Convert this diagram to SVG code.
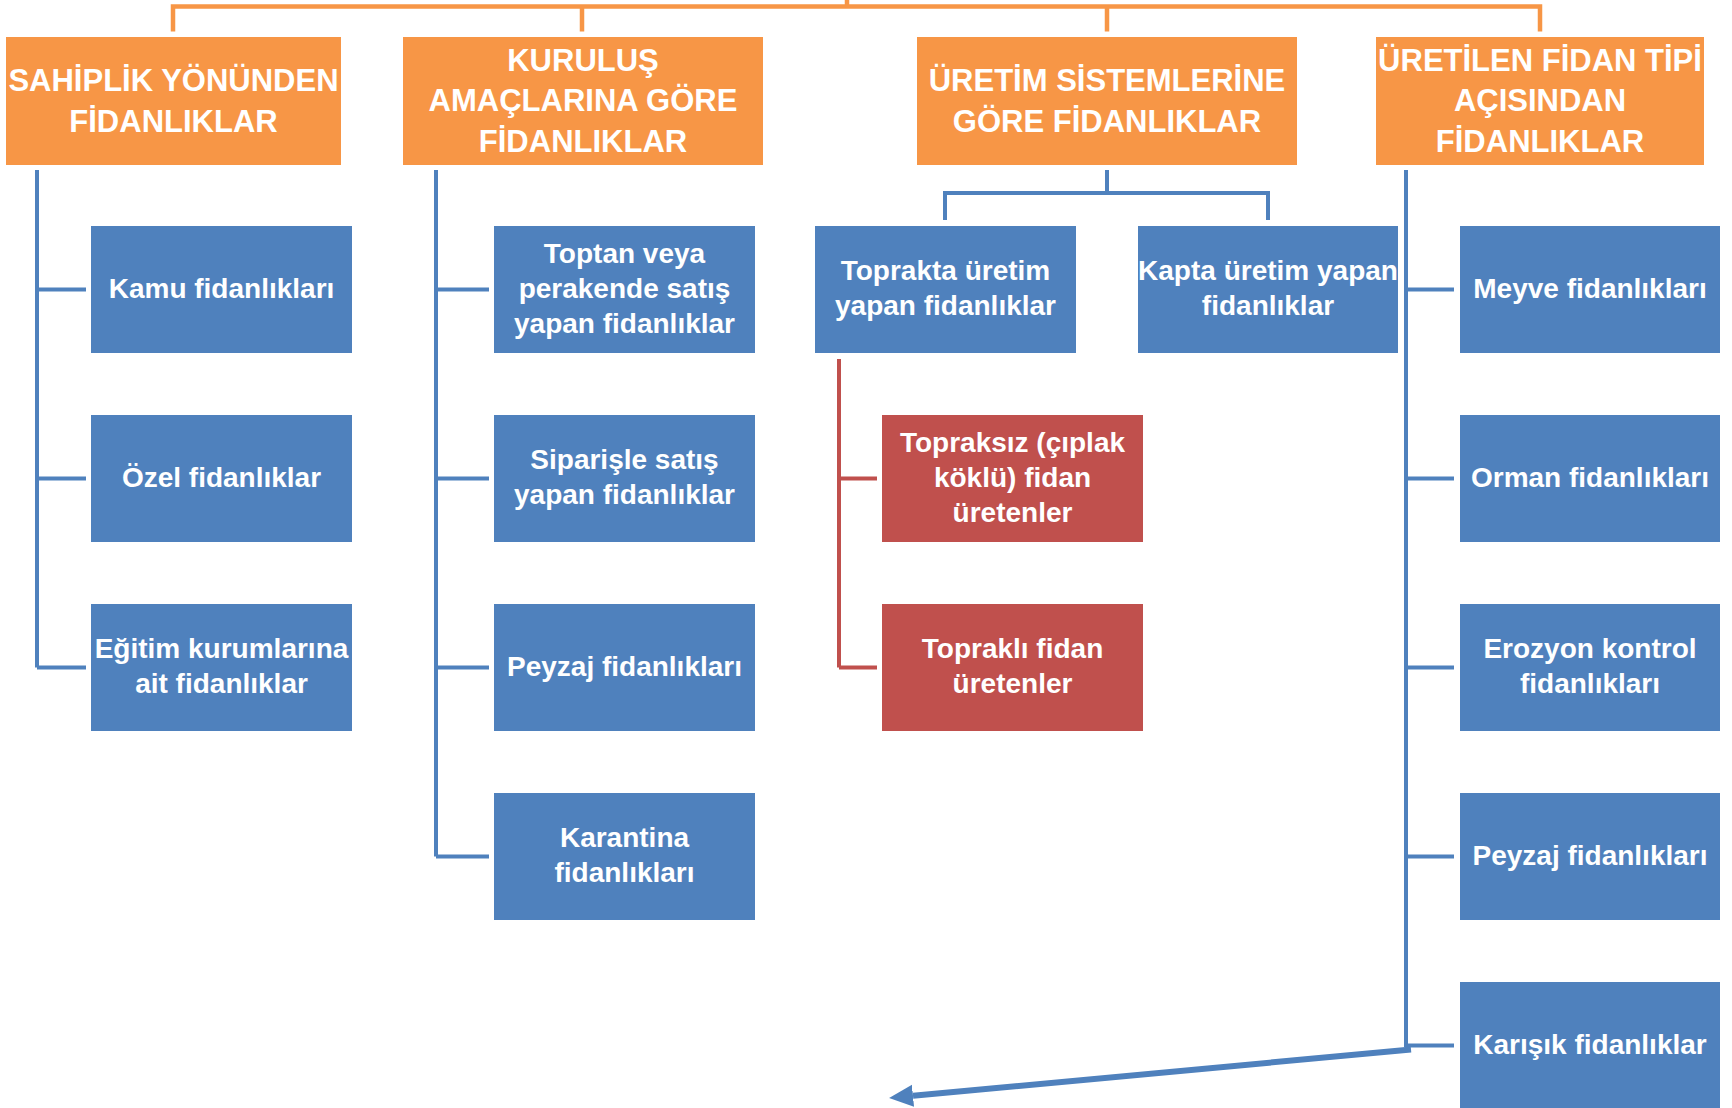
<svg xmlns="http://www.w3.org/2000/svg" width="1732" height="1108" viewBox="0 0 1732 1108">
<style>
.o{fill:#F79646}
.b{fill:#4F81BD}
.r{fill:#C0504D}
.th{font-family:"Liberation Sans",Arial,sans-serif;font-weight:bold;font-size:31px;fill:#fff;text-anchor:middle}
.tb{font-family:"Liberation Sans",Arial,sans-serif;font-weight:bold;font-size:28px;fill:#fff;text-anchor:middle}
.lo{stroke:#F79646;stroke-width:4.5;fill:none}
.lb{stroke:#4F81BD;stroke-width:4;fill:none}
.lr{stroke:#C0504D;stroke-width:4;fill:none}
</style>
<defs>
<marker id="ah" markerUnits="userSpaceOnUse" markerWidth="26" markerHeight="24" refX="0" refY="11" orient="auto" viewBox="0 0 26 24">
<path d="M0,0 L24,11 L0,22 z" fill="#4F81BD"/>
</marker>
</defs>
<g id="connectors">
<path class="lo" d="M847,0 V6.5 M173,31.5 V6.5 H1540 V31.5 M582,6.5 V31.5 M1107,6.5 V31.5"/>
<path class="lb" d="M37,170 V667.5 M37,289.5 H86 M37,478.5 H86 M37,667.5 H86"/>
<path class="lb" d="M436,170 V856.5 M436,289.5 H489 M436,478.5 H489 M436,667.5 H489 M436,856.5 H489"/>
<path class="lb" d="M1107,170 V193 M945,220 V193 H1268 V220"/>
<path class="lr" d="M839,359 V667.5 M839,478.5 H877 M839,667.5 H877"/>
<path class="lb" d="M1406,170 V1047 M1406,289.5 H1454 M1406,478.5 H1454 M1406,667.5 H1454 M1406,856.5 H1454 M1406,1045.5 H1454"/>
<path d="M1411,1049.5 L913,1095.8" stroke="#4F81BD" stroke-width="6" fill="none" marker-end="url(#ah)"/>
</g>
<g id="h1"><rect class="o" x="6" y="37" width="335" height="128"/><text class="th" x="173.5" y="91">SAHİPLİK YÖNÜNDEN</text><text class="th" x="173.5" y="132">FİDANLIKLAR</text></g>
<g id="h2"><rect class="o" x="403" y="37" width="360" height="128"/><text class="th" x="583" y="71">KURULUŞ</text><text class="th" x="583" y="111">AMAÇLARINA GÖRE</text><text class="th" x="583" y="152">FİDANLIKLAR</text></g>
<g id="h3"><rect class="o" x="917" y="37" width="380" height="128"/><text class="th" x="1107" y="91">ÜRETİM SİSTEMLERİNE</text><text class="th" x="1107" y="132">GÖRE FİDANLIKLAR</text></g>
<g id="h4"><rect class="o" x="1376" y="37" width="328" height="128"/><text class="th" x="1540" y="71">ÜRETİLEN FİDAN TİPİ</text><text class="th" x="1540" y="111">AÇISINDAN</text><text class="th" x="1540" y="152">FİDANLIKLAR</text></g>
<g id="n1a"><rect class="b" x="91" y="226" width="261" height="127"/><text class="tb" x="221.5" y="297.7">Kamu fidanlıkları</text></g>
<g id="n1b"><rect class="b" x="91" y="415" width="261" height="127"/><text class="tb" x="221.5" y="486.7">Özel fidanlıklar</text></g>
<g id="n1c"><rect class="b" x="91" y="604" width="261" height="127"/><text class="tb" x="221.5" y="658.3">Eğitim kurumlarına</text><text class="tb" x="221.5" y="693.1">ait fidanlıklar</text></g>
<g id="n2a"><rect class="b" x="494" y="226" width="261" height="127"/><text class="tb" x="624.5" y="262.9">Toptan veya</text><text class="tb" x="624.5" y="297.7">perakende satış</text><text class="tb" x="624.5" y="332.5">yapan fidanlıklar</text></g>
<g id="n2b"><rect class="b" x="494" y="415" width="261" height="127"/><text class="tb" x="624.5" y="469.3">Siparişle satış</text><text class="tb" x="624.5" y="504.1">yapan fidanlıklar</text></g>
<g id="n2c"><rect class="b" x="494" y="604" width="261" height="127"/><text class="tb" x="624.5" y="675.7">Peyzaj fidanlıkları</text></g>
<g id="n2d"><rect class="b" x="494" y="793" width="261" height="127"/><text class="tb" x="624.5" y="847.3">Karantina</text><text class="tb" x="624.5" y="882.1">fidanlıkları</text></g>
<g id="n3a"><rect class="b" x="815" y="226" width="261" height="127"/><text class="tb" x="945.5" y="280.3">Toprakta üretim</text><text class="tb" x="945.5" y="315.1">yapan fidanlıklar</text></g>
<g id="n3b"><rect class="b" x="1138" y="226" width="260" height="127"/><text class="tb" x="1268" y="280.3">Kapta üretim yapan</text><text class="tb" x="1268" y="315.1">fidanlıklar</text></g>
<g id="n3c"><rect class="r" x="882" y="415" width="261" height="127"/><text class="tb" x="1012.5" y="451.9">Topraksız (çıplak</text><text class="tb" x="1012.5" y="486.7">köklü) fidan</text><text class="tb" x="1012.5" y="521.5">üretenler</text></g>
<g id="n3d"><rect class="r" x="882" y="604" width="261" height="127"/><text class="tb" x="1012.5" y="658.3">Topraklı fidan</text><text class="tb" x="1012.5" y="693.1">üretenler</text></g>
<g id="n4a"><rect class="b" x="1460" y="226" width="260" height="127"/><text class="tb" x="1590" y="297.7">Meyve fidanlıkları</text></g>
<g id="n4b"><rect class="b" x="1460" y="415" width="260" height="127"/><text class="tb" x="1590" y="486.7">Orman fidanlıkları</text></g>
<g id="n4c"><rect class="b" x="1460" y="604" width="260" height="127"/><text class="tb" x="1590" y="658.3">Erozyon kontrol</text><text class="tb" x="1590" y="693.1">fidanlıkları</text></g>
<g id="n4d"><rect class="b" x="1460" y="793" width="260" height="127"/><text class="tb" x="1590" y="864.7">Peyzaj fidanlıkları</text></g>
<g id="n4e"><rect class="b" x="1460" y="982" width="260" height="130"/><text class="tb" x="1590" y="1053.7">Karışık fidanlıklar</text></g>
</svg>
